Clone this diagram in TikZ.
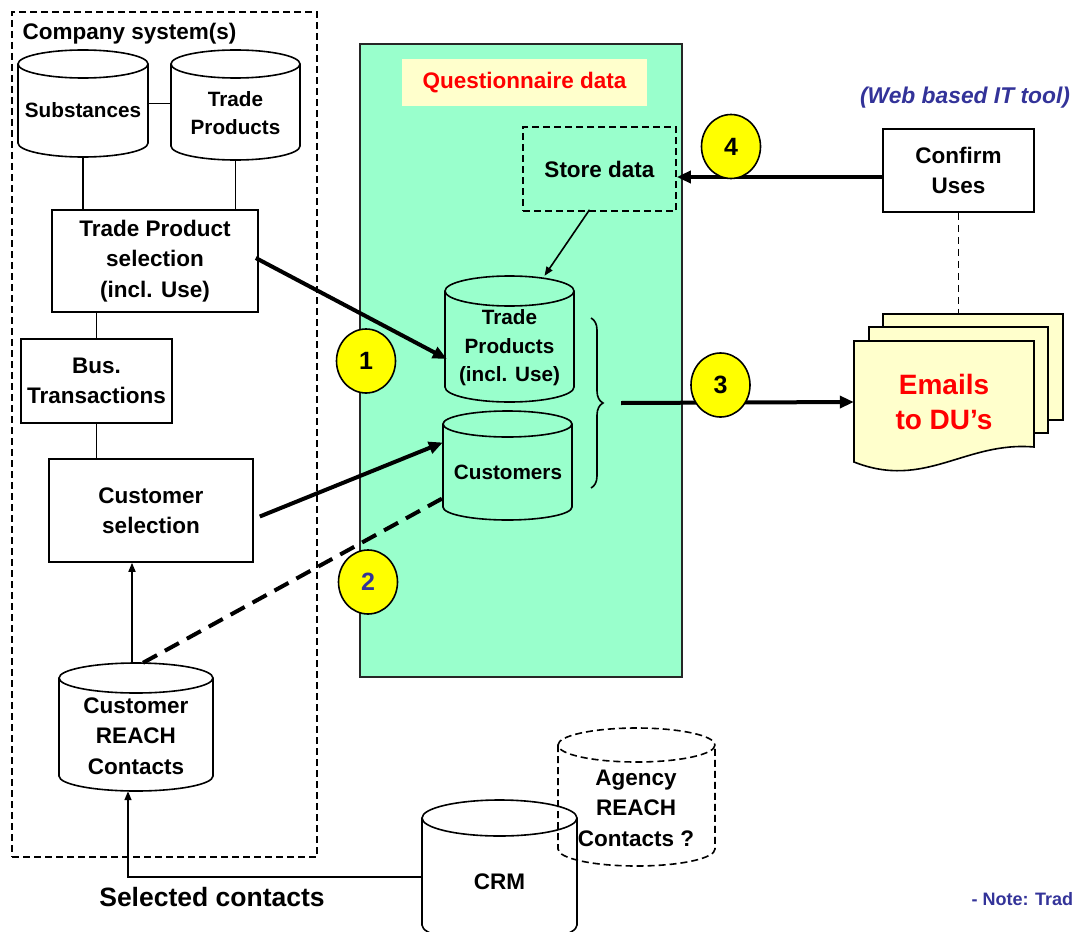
\documentclass[tikz,border=0pt]{standalone}
\usepackage{fontspec}
\setmainfont{Liberation Sans}
\usetikzlibrary{arrows.meta,decorations.pathreplacing,shapes.geometric}

\definecolor{panelgreen}{HTML}{99FFCC}
\definecolor{paleyellow}{HTML}{FFFFCC}
\definecolor{markyellow}{HTML}{FFFF00}
\definecolor{noteblue}{HTML}{333399}
\definecolor{alertred}{HTML}{FF0000}

% database symbol: [style]{name}{centre x}{top ellipse y}{bottom ellipse y}{x radius}{y radius}
\newcommand\dbcyl[7][]{%
  \draw[cylline,#1] (#3-#6,#4) -- (#3-#6,#5)
    arc[start angle=180,end angle=0,x radius=#6,y radius=#7] -- (#3+#6,#4);
  \draw[cylline,#1] (#3,#4) ellipse[x radius=#6,y radius=#7];
  \node[inner sep=0pt,minimum width={2*#6},minimum height={#5-#4+2*#7}] (#2) at (#3,{(#4+#5)/2}) {};
}

\begin{document}
\begin{tikzpicture}[x=1pt,y=-1pt,
  cylline/.style={draw=black,line width=1.6pt},
  link/.style={line width=1.6pt},
  boxtext/.style={font=\fontsize{22.5}{30.5}\selectfont\bfseries,align=center},
  cyltext/.style={font=\fontsize{20.7}{28.5}\selectfont\bfseries,align=center},
  procbox/.style={draw,line width=1.6pt,rectangle,inner sep=0pt,boxtext},
  dashbox/.style={draw,line width=1.6pt,dash pattern=on 7pt off 4pt,inner sep=0pt},
  thinarrow/.style={line width=1.6pt,-{Triangle[length=9pt,width=7pt]}},
  flowarrow/.style={line width=4pt,-{Triangle[length=14pt,width=12pt]}},
  stepmark/.style={ellipse,draw,line width=1.6pt,fill=markyellow,minimum width=59pt,
    minimum height=64pt,inner sep=0pt,font=\fontsize{25}{25}\selectfont\bfseries},
  pagesheet/.style={draw,line width=1.6pt,fill=paleyellow,inner sep=0pt}
]
\useasboundingbox (0,0) rectangle (1075,931);
\clip (0,0) rectangle (1075,931);

% ---- company systems ----
\node[dashbox,minimum width=305,minimum height=845] (company) at (164.5,434.5) {};
\node[boxtext,anchor=west] (companylbl) at (19,34) {Company system(s)};

\dbcyl{subst}{83}{64}{143}{65}{14}
\node[cyltext] (subst-t) at (83,110) {Substances};
\dbcyl{tpc}{235.5}{64}{146}{64.5}{14}
\node[cyltext] (tpc-t) at (235.5,113) {Trade\\Products};

\node[procbox,minimum width=206,minimum height=102] (tpsel) at (155,261) {Trade Product\\selection\\(incl. Use)};
\node[procbox,minimum width=151,minimum height=84] (bus) at (96.5,381) {Bus.\\Transactions};
\node[procbox,minimum width=204,minimum height=103] (cusel) at (151,510.5) {Customer\\selection};

\dbcyl{crc}{136}{678}{776}{77}{15}
\node[boxtext] (crc-t) at (136,736) {Customer\\REACH\\Contacts};

% ---- questionnaire data store ----
\node[draw=black!85,line width=1.6pt,fill=panelgreen,inner sep=0pt,minimum width=322,minimum height=633] (panel) at (521,360.5) {};
\node[fill=paleyellow,inner sep=0pt,minimum width=245,minimum height=47,boxtext,text=alertred] (qlabel) at (524.5,82.5) {Questionnaire data};
\node[dashbox,boxtext,minimum width=153,minimum height=84] (store) at (599.5,169) {Store data};

\dbcyl{tp2}{509.5}{291}{387}{64.5}{15}
\node[cyltext] (tp2-t) at (509.5,348) {Trade\\Products\\(incl. Use)};
\dbcyl{cust}{507.5}{424}{507}{64.5}{13}
\node[cyltext] (cust-t) at (508,472) {Customers};

\coordinate (brtop) at (591,318);
\coordinate (brbot) at (591,488);
\draw[link,decorate,decoration={brace,amplitude=12pt}] (brtop) -- (brbot);
\coordinate (out3) at (621,403);

% ---- web tool side ----
\node[text=noteblue,font=\fontsize{22.8}{26}\selectfont\bfseries\itshape] (webtool) at (965,98) {(Web based IT tool)};
\node[procbox,minimum width=151,minimum height=83] (confirm) at (958.5,170.5) {Confirm\\Uses};

\node[pagesheet,minimum width=180,minimum height=106] (docback) at (973,367) {};
\draw[link,dash pattern=on 7pt off 5pt] (confirm.south) -- (confirm.south |- docback.north);
\node[pagesheet,minimum width=179,minimum height=106] (docmid) at (958.5,380) {};
\draw[link,fill=paleyellow] (854,341) -- (1034,341) -- (1034,447)
  .. controls (965,441) and (925,490) .. (854,462) -- cycle;
\node[font=\fontsize{28}{35}\selectfont\bfseries,text=alertred,align=center,inner sep=0pt,
  minimum width=180,minimum height=122] (emails) at (944,402) {Emails\\to DU’s};

% ---- bottom stores ----
\dbcyl[dash pattern=on 7pt off 4pt]{agency}{636.5}{745}{849}{78.5}{17}
\node[boxtext] (agency-t) at (636,808) {Agency\\REACH\\Contacts ?};
\dbcyl{crm}{499.5}{818}{925}{77.5}{18}
\node[boxtext] (crm-t) at (499.5,882) {CRM};

\node[font=\fontsize{26.5}{30}\selectfont\bfseries] (selected) at (212,897) {Selected contacts};
\node[text=noteblue,font=\fontsize{18}{20}\selectfont\bfseries,anchor=west] (note) at (968,899) {- Note: Trad};

% ---- connectors ----
\draw[link] (subst.east) -- (subst.east -| tpc.west);
\draw[link] (subst.south) -- (subst.south |- tpsel.north);
\draw[link] (tpc.south) -- (tpc.south |- tpsel.north);
\draw[link] (bus.north) -- (bus.north |- tpsel.south);
\draw[link] (bus.south) -- (bus.south |- cusel.north);
\draw[thinarrow] ([xshift=-4pt]crc.north) -- ([xshift=-4pt]crc.north |- cusel.south);
\draw[thinarrow] ([shift={(0,5.5)}]crm.west) -| ([xshift=-8pt]crc.south);

\draw[flowarrow] ([shift={(-3,-3)}]tpsel.east) -- ([shift={(2,20)}]tp2.west);
\draw[flowarrow] ([shift={(6,6)}]cusel.east) -- ([shift={(0,-23)}]cust.west);
\draw[line width=4pt,dash pattern=on 16pt off 9pt] ([xshift=7pt]crc.north) -- ([shift={(3,31)}]cust.west);
\draw[thinarrow] ([shift={(-10,-2)}]store.south) -- ([shift={(35,0)}]tp2.north);
\draw[flowarrow] (out3) -- (emails.west);
\draw[flowarrow] ([shift={(0,6.5)}]confirm.west) -- ([shift={(0,6.5)}]confirm.west -| store.east);

% ---- step markers ----
\node[stepmark] (m1) at (366,361) {1};
\node[stepmark,text=noteblue] (m2) at (368,582) {2};
\node[stepmark] (m3) at (720.5,385) {3};
\node[stepmark] (m4) at (731,146.5) {4};
\end{tikzpicture}
\end{document}
